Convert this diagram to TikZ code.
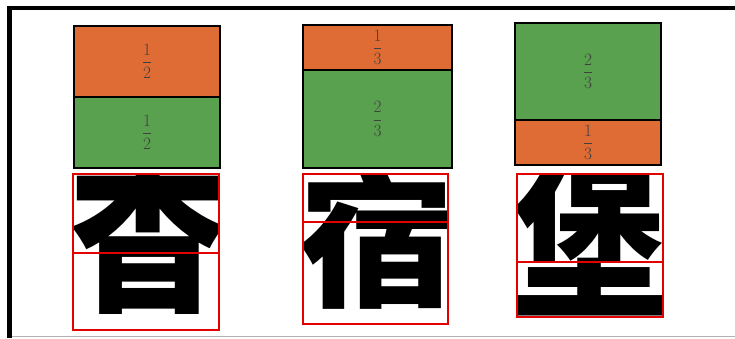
\documentclass[tikz,border=0pt]{standalone}
\usepackage{amsmath}
\usepackage{fontspec}
\newfontfamily\cjk{Noto Sans CJK SC}

\begin{document}
\begin{tikzpicture}[x=1pt,y=1pt,
  part/.style={draw=black,line width=1.6pt},
  frac/.style={font=\LARGE,text=black!75},
  cut/.style={draw=red!90!black,line width=1.3pt},
  glyph/.style={anchor=base,inner sep=0pt,font=\cjk\bfseries\fontsize{157}{157}\selectfont}]
\definecolor{half}{HTML}{E06C35}\definecolor{rest}{HTML}{59A04F}
\useasboundingbox (0,0) rectangle (735,338);
\fill[white] (0,0) rectangle (735,338);
% frame
\draw[black,line width=4.5pt] (9.5,0) -- (9.5,330) -- (735,330);
\draw[black!30,line width=.8pt] (12,1.5) -- (735,1.5);
% one half over one half
\fill[half] (74,241) rectangle (220,312);
\fill[rest] (74,170) rectangle (220,241);
\draw[part] (74,170) rectangle (220,312);
\draw[part] (74,241) -- (220,241);
\node[frac] (ai) at (147,276.5) {$\dfrac{1}{2}$};
\node[frac] (aii) at (147,205.5) {$\dfrac{1}{2}$};
% one third over two thirds
\fill[half] (303,268) rectangle (452,313);
\fill[rest] (303,170) rectangle (452,268);
\draw[part] (303,170) rectangle (452,313);
\draw[part] (303,268) -- (452,268);
\node[frac] (bi) at (377.5,290.5) {$\dfrac{1}{3}$};
\node[frac] (bii) at (377.5,219) {$\dfrac{2}{3}$};
% two thirds over one third
\fill[rest] (515,218) rectangle (661,315);
\fill[half] (515,173) rectangle (661,218);
\draw[part] (515,173) rectangle (661,315);
\draw[part] (515,218) -- (661,218);
\node[frac] (ci) at (588,266.5) {$\dfrac{2}{3}$};
\node[frac] (cii) at (588,195.5) {$\dfrac{1}{3}$};
% the characters, cut to their boxes
\begin{scope}
\clip (73,8) rectangle (219,164);
\node[glyph,yscale=1.22] (xiang) at (147.5,42) {香};
\end{scope}
\begin{scope}
\clip (303,14) rectangle (448,164);
\node[glyph,yscale=.93] (su) at (377,42.5) {宿};
\end{scope}
\begin{scope}
\clip (517,21) rectangle (663,164);
\node[glyph,yscale=1.05] (bao) at (590,36) {堡};
\end{scope}
\draw[cut] (73,8) rectangle (219,164);
\draw[cut] (73,85) -- (219,85);
\draw[cut] (303,14) rectangle (448,164);
\draw[cut] (303,116) -- (448,116);
\draw[cut] (517,21) rectangle (663,164);
\draw[cut] (517,76) -- (663,76);
\end{tikzpicture}
\end{document}
